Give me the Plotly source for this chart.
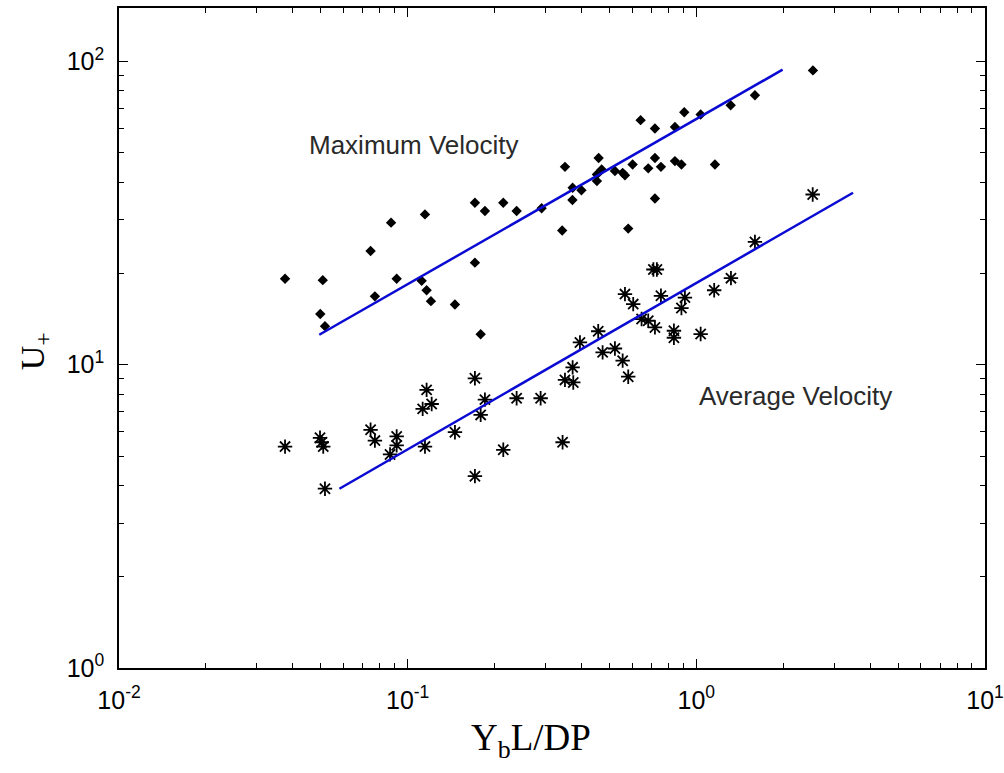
import plotly.graph_objects as go

# Maximum velocity data (diamonds)
max_x = [0.0376, 0.0508, 0.0498, 0.0517, 0.0744, 0.0770, 0.0876, 0.0916, 0.1148, 0.1118,
         0.1163, 0.1204, 0.1458, 0.171, 0.1852, 0.2144, 0.2385, 0.171, 0.179, 0.2911,
         0.343, 0.3507, 0.3728, 0.3999, 0.3722, 0.4587, 0.4525, 0.4525, 0.4699, 0.5224,
         0.5556, 0.5659, 0.6015, 0.6814, 0.6412, 0.7188, 0.7188, 0.7541, 0.8431, 0.8431,
         0.8879, 0.9081, 1.035, 1.16, 1.315, 1.596, 2.535, 0.7188, 0.5808]
max_y = [19.2, 19.0, 14.7, 13.4, 23.7, 16.8, 29.4, 19.2, 31.3, 18.9,
         17.6, 16.2, 15.8, 34.2, 32.1, 34.2, 32.1, 21.7, 12.6, 32.8,
         27.7, 44.9, 38.3, 37.6, 34.9, 48.0, 42.4, 40.3, 44.0, 43.5,
         42.9, 42.1, 45.7, 44.4, 64.0, 60.1, 48.0, 44.9, 60.8, 46.9,
         45.7, 68.0, 66.8, 45.7, 71.7, 77.3, 93.4, 35.3, 28.1]

# Average velocity data (asterisks)
avg_x = [0.0376, 0.0497, 0.0504, 0.051, 0.0517, 0.0744, 0.077, 0.0916, 0.0916, 0.0869,
         0.1163, 0.1127, 0.1211, 0.1148, 0.1458, 0.171, 0.1852, 0.179, 0.171, 0.2144,
         0.2385, 0.2888, 0.3441, 0.3507, 0.3728, 0.3747, 0.3952, 0.4572, 0.4735, 0.5224,
         0.5556, 0.5808, 0.5659, 0.6044, 0.6462, 0.6814, 0.7188, 0.71, 0.73, 0.7541,
         0.8363, 0.8363, 0.8879, 0.9129, 1.035, 1.153, 1.318, 1.596, 2.53]
avg_y = [5.37, 5.74, 5.55, 5.37, 3.90, 6.10, 5.62, 5.80, 5.42, 5.06,
         8.26, 7.15, 7.42, 5.37, 5.99, 9.02, 7.67, 6.83, 4.29, 5.24,
         7.75, 7.75, 5.55, 8.91, 9.80, 8.74, 11.84, 12.89, 10.98, 11.31,
         10.31, 9.13, 17.09, 15.84, 14.14, 13.96, 13.27, 20.6, 20.6, 16.87,
         12.94, 12.27, 15.37, 16.65, 12.62, 17.6, 19.29, 25.4, 36.4]

# Fitted power-law lines (end points)
max_fit_x = [0.0494, 1.99]
max_fit_y = [12.55, 93.9]
avg_fit_x = [0.058, 3.49]
avg_fit_y = [3.90, 36.9]

# Tick labels
x_tickvals = [0.01, 0.1, 1, 10]
x_ticktext = ["10<sup>-2</sup>", "10<sup>-1</sup>", "10<sup>0</sup>", "10<sup>1</sup>"]
y_tickvals = [1, 10, 100]
y_ticktext = ["10<sup>0</sup>", "10<sup>1</sup>", "10<sup>2</sup>"]

x_range = [-2, 1]
y_range = [0, 2.176]

line_color = "#0a0ad2"

fig = go.Figure()
fig.add_trace(go.Scatter(x=max_x, y=max_y, mode="markers",
                         marker=dict(symbol="diamond", size=8, color="black",
                                     line=dict(width=0))))
fig.add_trace(go.Scatter(x=avg_x, y=avg_y, mode="markers",
                         marker=dict(symbol="asterisk-open", size=12, color="black",
                                     line=dict(width=1.8, color="black"))))
fig.add_trace(go.Scatter(x=max_fit_x, y=max_fit_y, mode="lines",
                         line=dict(color=line_color, width=2.5)))
fig.add_trace(go.Scatter(x=avg_fit_x, y=avg_fit_y, mode="lines",
                         line=dict(color=line_color, width=2.5)))

fig.add_annotation(x=-1.349, y=1.724, xref="x", yref="y", text="Maximum Velocity",
                   showarrow=False, xanchor="left", yanchor="middle",
                   font=dict(family="Liberation Sans", size=26, color="#2a2a2a"))
fig.add_annotation(x=0.002, y=0.898, xref="x", yref="y", text="Average Velocity",
                   showarrow=False, xanchor="left", yanchor="middle",
                   font=dict(family="Liberation Sans", size=26, color="#2a2a2a"))

# Axis titles
fig.add_annotation(x=0.476, y=-0.11, xref="paper", yref="paper",
                   text="Y<sub>b</sub>L/DP", showarrow=False,
                   xanchor="center", yanchor="middle",
                   font=dict(family="Liberation Serif", size=37, color="black"))
fig.add_annotation(x=-0.097, y=0.48, xref="paper", yref="paper",
                   text="U<sub>+</sub>", showarrow=False, textangle=-90,
                   xanchor="center", yanchor="middle",
                   font=dict(family="Liberation Serif", size=34, color="black"))

axis_common = dict(
    type="log", showline=True, linecolor="black", linewidth=1.5, mirror="ticks",
    ticks="inside", ticklen=9, tickwidth=1.3, tickcolor="black",
    showgrid=False, zeroline=False, automargin=False, ticklabeloverflow="allow",
    tickfont=dict(family="Liberation Sans", size=25, color="black"),
    minor=dict(ticks="inside", ticklen=5, tickwidth=1.3, tickcolor="black",
               showgrid=False, dtick="D1"),
)

fig.update_layout(
    width=1004, height=773,
    margin=dict(l=119, r=19, t=8, b=105),
    paper_bgcolor="white", plot_bgcolor="white",
    showlegend=False,
    xaxis=dict(range=x_range, tickmode="array", tickvals=x_tickvals,
               ticktext=x_ticktext, ticklabelstandoff=9, **axis_common),
    yaxis=dict(range=y_range, tickmode="array", tickvals=y_tickvals,
               ticktext=y_ticktext, ticklabelstandoff=8, **axis_common),
)

fig.write_html("out.html")
